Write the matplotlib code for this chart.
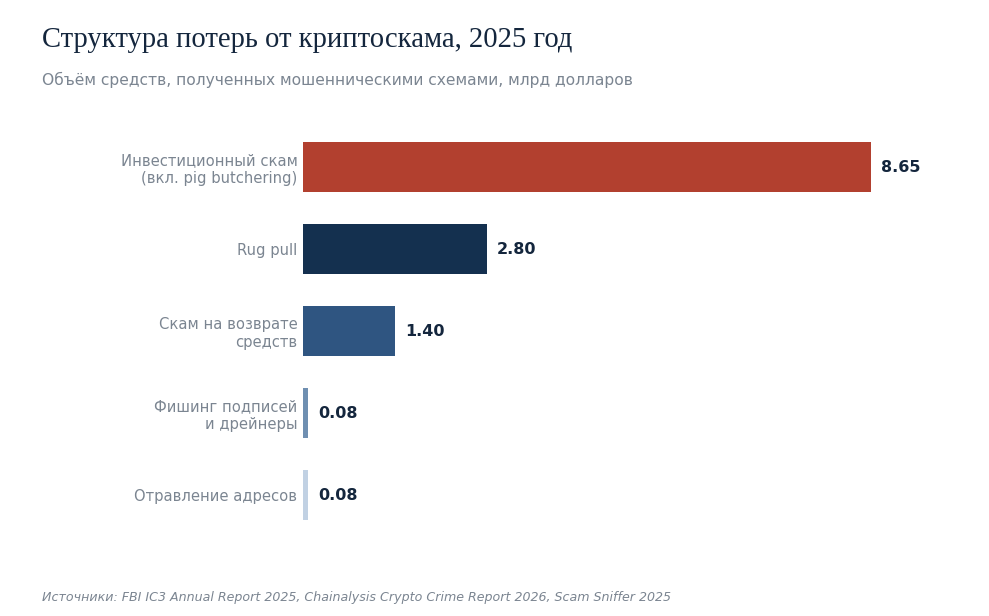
import matplotlib
matplotlib.use("Agg")
import matplotlib.pyplot as plt

categories = ["Инвестиционный скам\n(вкл. pig butchering)", "Rug pull",
              "Скам на возврате\nсредств", "Фишинг подписей\nи дрейнеры", "Отравление адресов"]
values = [8.65, 2.80, 1.40, 0.08, 0.08]
value_labels = ["8.65", "2.80", "1.40", "0.08", "0.08"]
colors = ["#B2402F", "#14304F", "#2F5581", "#6F8FB1", "#C1D1E3"]

W, H = 989, 616
fig = plt.figure(figsize=(W/100, H/100), dpi=100)
fig.patch.set_facecolor("white")

left = 303; top = 126; bottom = 536
px_per_unit = 568 / 8.65
xmax = 9.6
right = left + xmax * px_per_unit
ax = fig.add_axes([left/W, 1 - bottom/H, (right-left)/W, (bottom-top)/H])

y = list(range(len(categories)))
ax.barh(y, values, height=0.61, color=colors, left=0)
ax.set_ylim(len(categories) - 0.5, -0.5)
ax.set_xlim(0, xmax)
ax.set_yticks(y)
ax.set_yticklabels(categories, fontsize=10.6, color="#7B8591", linespacing=1.2)
ax.tick_params(axis="y", length=0, pad=4)
ax.set_xticks([])
for s in ax.spines.values():
    s.set_visible(False)

for yi, v, lab in zip(y, values, value_labels):
    ax.text(v + 10/px_per_unit, yi, lab, va="center", ha="left",
            fontsize=11.5, fontweight="bold", color="#14263D")

fig.text(42/W, 1 - 40/H, "Структура потерь от криптоскама, 2025 год",
         fontsize=20.6, family="Liberation Serif", color="#14263D", va="center", ha="left")
fig.text(42/W, 1 - 80/H, "Объём средств, полученных мошенническими схемами, млрд долларов",
         fontsize=11.2, color="#7B8591", va="center", ha="left")
fig.text(42/W, 1 - 597/H, "Источники: FBI IC3 Annual Report 2025, Chainalysis Crypto Crime Report 2026, Scam Sniffer 2025",
         fontsize=9.05, style="italic", color="#7B8591", va="center", ha="left")

fig.savefig("out.png", dpi=100, facecolor="white")
